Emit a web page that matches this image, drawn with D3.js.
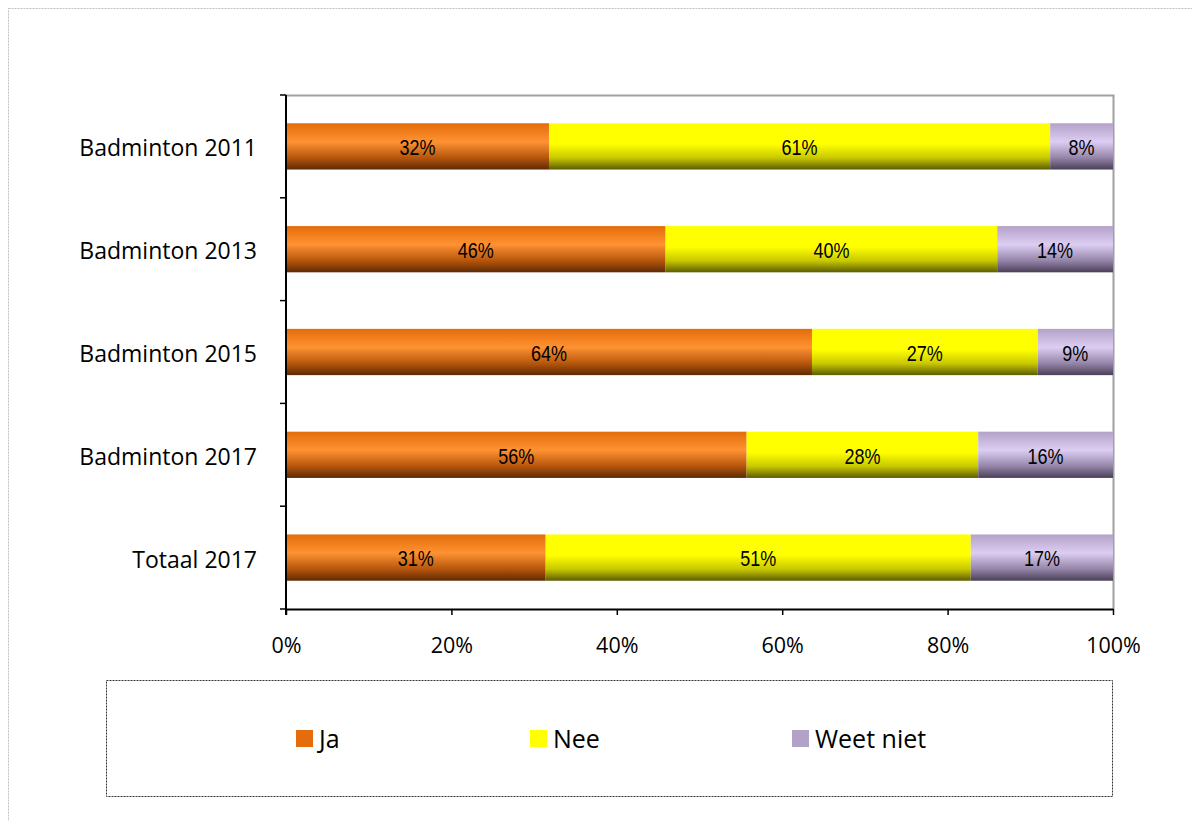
<!DOCTYPE html>
<html><head><meta charset="utf-8">
<script src="https://cdn.jsdelivr.net/npm/d3@7/dist/d3.min.js"></script>
<style>body{margin:0;background:#fff;}svg{display:block;}</style>
</head><body>
<svg id="chart" width="1192" height="821"></svg>
<script>
const categories = ["Badminton 2011","Badminton 2013","Badminton 2015","Badminton 2017","Totaal 2017"];
const seriesNames = ["Ja","Nee","Weet niet"];
const ja = [31.8, 45.9, 63.6, 55.7, 31.4];
const nee = [60.6, 40.1, 27.3, 28.0, 51.4];
const weetNiet = [7.6, 14.0, 9.1, 16.3, 17.2];
const labelsJa = ["32%","46%","64%","56%","31%"];
const labelsNee = ["61%","40%","27%","28%","51%"];
const labelsWeet = ["8%","14%","9%","16%","17%"];
const xTicks = [0,20,40,60,80,100];

const svg = d3.select("#chart");
const W = 1192, H = 821;
const plot = {l:286, r:1113, t:95, b:609};
const axisFont = "'Open Sans',Lato,sans-serif";

// outer frame
svg.append("rect").attr("x",8.5).attr("y",8.5).attr("width",W+10).attr("height",H+10)
  .attr("fill","none").attr("stroke","#c0c0c0").attr("stroke-width",1).attr("stroke-dasharray","2,1");

const x = d3.scaleLinear().domain([0,100]).range([plot.l, plot.r]);
const y = d3.scaleBand().domain(categories).range([plot.t, plot.b]).paddingInner(0.55).paddingOuter(0.275);

const defs = svg.append("defs");
const gradSpecs = {
  "Ja": [["0%","#e46c0a"],["40%","#ff9232"],["75%","#b5550c"],["100%","#5e2a04"]],
  "Nee": [["0%","#ffff00"],["45%","#ffff00"],["75%","#c8c800"],["100%","#5c5c00"]],
  "Weet niet": [["0%","#b4a2c8"],["40%","#dccdf2"],["75%","#9484a8"],["100%","#4a3f58"]]
};
const gradIds = {};
seriesNames.forEach((s,i)=>{
  const id = "g"+i; gradIds[s]=id;
  const g = defs.append("linearGradient").attr("id",id).attr("x1",0).attr("y1",0).attr("x2",0).attr("y2",1);
  gradSpecs[s].forEach(st=>g.append("stop").attr("offset",st[0]).attr("stop-color",st[1]));
});
const legendColors = {"Ja":"#e46c0a","Nee":"#ffff00","Weet niet":"#b3a2c7"};

// plot area border (top/right grey)
svg.append("path").attr("d",`M${plot.l},${plot.t+0.5}H${plot.r+0.5}V${plot.b}`)
  .attr("fill","none").attr("stroke","#a0a0a0").attr("stroke-width",2);

const data = categories.map((c,i)=>({cat:c, vals:[ja[i],nee[i],weetNiet[i]], labels:[labelsJa[i],labelsNee[i],labelsWeet[i]]}));

const rows = svg.append("g").selectAll("g").data(data).join("g");
rows.each(function(d){
  let cum = 0;
  const g = d3.select(this);
  d.vals.forEach((v,j)=>{
    const x0 = x(cum), x1 = x(cum+v);
    g.append("rect").attr("x",x0).attr("y",y(d.cat)).attr("width",x1-x0).attr("height",y.bandwidth())
      .attr("fill",`url(#${gradIds[seriesNames[j]]})`);
    const cx = (x0+x1)/2, cy = y(d.cat)+y.bandwidth()/2+1;
    g.append("text").attr("transform",`translate(${cx},${cy}) scale(0.8,1)`)
      .attr("text-anchor","middle").attr("dominant-baseline","central")
      .attr("font-family","'Liberation Sans',Arial,sans-serif")
      .attr("font-size",22.5).attr("fill","#000").text(d.labels[j]);
    cum += v;
  });
});

// Y axis
const yAxisG = svg.append("g");
yAxisG.append("line").attr("x1",plot.l).attr("x2",plot.l).attr("y1",plot.t).attr("y2",plot.b+6).attr("stroke","#000").attr("stroke-width",2);
const yTickPos = d3.range(categories.length+1).map(i=>plot.t + i*(plot.b-plot.t)/categories.length);
yAxisG.selectAll("line.t").data(yTickPos).join("line").attr("class","t")
  .attr("x1",plot.l-6).attr("x2",plot.l).attr("y1",d=>d).attr("y2",d=>d).attr("stroke","#000").attr("stroke-width",1.5);
yAxisG.selectAll("text").data(categories).join("text")
  .attr("x",257).attr("y",d=>y(d)+y.bandwidth()/2+1).attr("text-anchor","end").attr("dominant-baseline","central")
  .attr("font-family",axisFont).attr("font-size",23).attr("fill","#000").text(d=>d);

// X axis
const xAxis = d3.axisBottom(x).tickValues(xTicks).tickFormat(d=>d+"%").tickSize(6).tickSizeOuter(0);
const xg = svg.append("g").attr("transform",`translate(0,${plot.b})`).call(xAxis);
xg.select(".domain").attr("stroke","#000").attr("stroke-width",2);
xg.selectAll(".tick line").attr("stroke","#000").attr("stroke-width",1.5);
xg.selectAll(".tick text").attr("y",29).attr("dy","0.71em").attr("font-family",axisFont).attr("font-size",21.5).attr("fill","#000");

// Legend
svg.append("rect").attr("x",106.5).attr("y",680.5).attr("width",1006).attr("height",116)
  .attr("fill","none").attr("stroke","#333").attr("stroke-width",1).attr("stroke-dasharray","2,1");
const legX = [296, 530, 792];
const lg = svg.append("g").selectAll("g").data(seriesNames).join("g")
  .attr("transform",(d,i)=>`translate(${legX[i]},730)`);
lg.append("rect").attr("width",17).attr("height",17).attr("fill",d=>legendColors[d]);
lg.append("text").attr("x",23).attr("y",8).attr("dominant-baseline","central")
  .attr("font-family",axisFont).attr("font-size",25).attr("fill","#000").text(d=>d);
</script>
</body></html>
